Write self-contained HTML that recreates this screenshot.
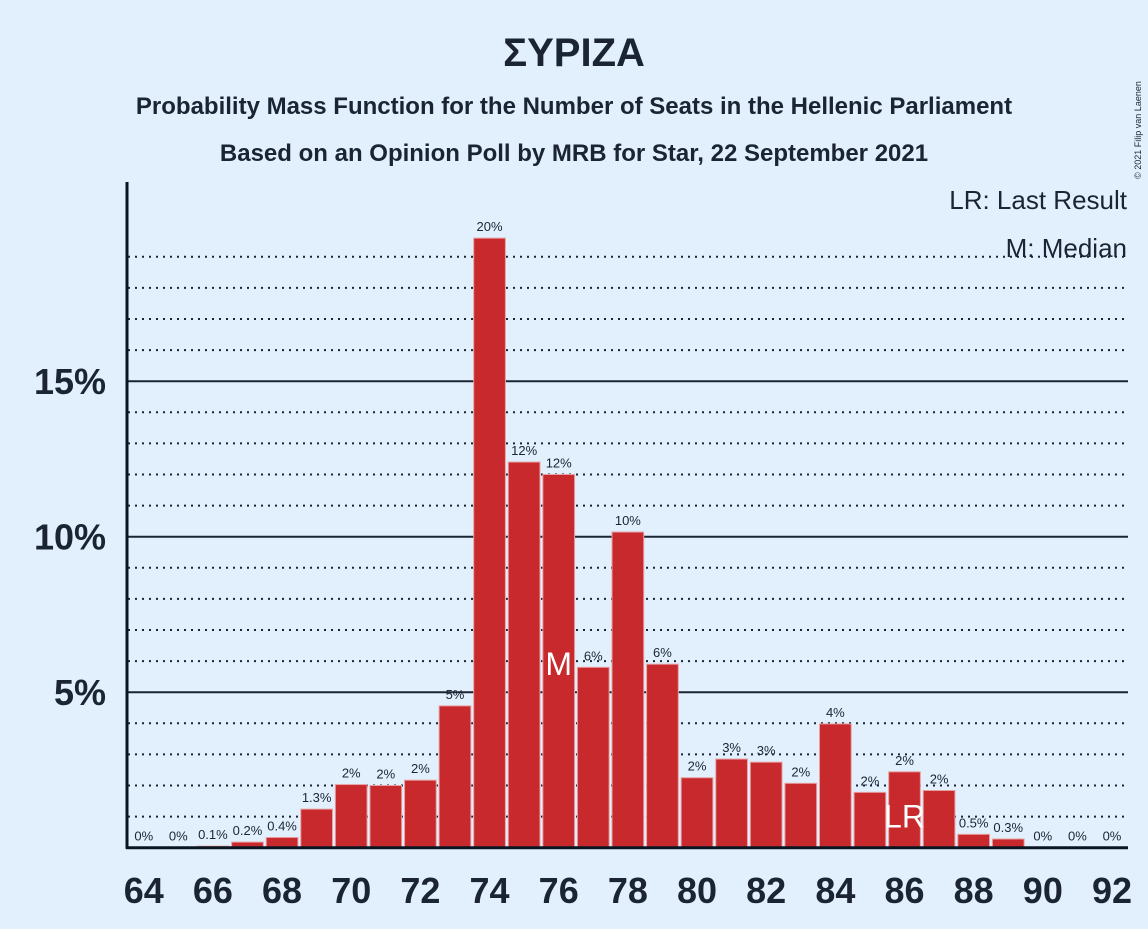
<!DOCTYPE html>
<html><head><meta charset="utf-8"><style>
body{margin:0;background:#e2f0fd;font-family:"Liberation Sans",sans-serif;}
svg text{font-family:"Liberation Sans",sans-serif;fill:#1a2433;}
</style></head><body>
<svg id="chart" width="1148" height="924" xmlns="http://www.w3.org/2000/svg">
<rect width="1148" height="924" fill="#e2f0fd"/>
<text x="574" y="66" text-anchor="middle" font-size="40" font-weight="bold">ΣΥΡΙΖΑ</text>
<text x="574" y="114" text-anchor="middle" font-size="24" font-weight="bold">Probability Mass Function for the Number of Seats in the Hellenic Parliament</text>
<text x="574" y="161" text-anchor="middle" font-size="24" font-weight="bold">Based on an Opinion Poll by MRB for Star, 22 September 2021</text>
<text x="1141" y="130" font-size="9" transform="rotate(-90 1141 130)" text-anchor="middle">© 2021 Filip van Laenen</text>
<g id="grid"></g>
<g id="bars"></g>
<g id="xaxis"></g>
<g id="yaxis"></g>
<text x="1127" y="209" text-anchor="end" font-size="26">LR: Last Result</text>
<text x="1127" y="257" text-anchor="end" font-size="26">M: Median</text>
</svg>
<script>
const seats=[64,65,66,67,68,69,70,71,72,73,74,75,76,77,78,79,80,81,82,83,84,85,86,87,88,89,90,91,92];
const probs=[0,0,0.05,0.18,0.33,1.24,2.03,2.0,2.17,4.56,19.6,12.4,12.0,5.8,10.15,5.9,2.25,2.85,2.75,2.07,3.98,1.78,2.44,1.84,0.43,0.28,0,0,0];
const labels=["0%","0%","0.1%","0.2%","0.4%","1.3%","2%","2%","2%","5%","20%","12%","12%","6%","10%","6%","2%","3%","3%","2%","4%","2%","2%","2%","0.5%","0.3%","0%","0%","0%"];
const yTicks=[5,10,15];
const yTickLabels=["5%","10%","15%"];
const medianSeat=76, lastResultSeat=86;
const NS="http://www.w3.org/2000/svg";
const x0=143.75, step=34.58, bw=31.7, base=847.7, ppu=31.1;
const X=s=>x0+(s-seats[0])*step;
const Y=v=>base-v*ppu;
function mk(tag,attrs,parent,txt){const e=document.createElementNS(NS,tag);for(const k in attrs)e.setAttribute(k,attrs[k]);if(txt!==undefined)e.textContent=txt;document.getElementById(parent).appendChild(e);return e;}
for(let p=1;p<=19;p++){
  if(yTicks.includes(p))continue;
  const l=mk('line',{x1:128,x2:1128,y1:Y(p),y2:Y(p),stroke:'#1a2433','stroke-width':2,'stroke-dasharray':'2,5'},'grid');
  
  
}
yTicks.forEach((t,i)=>{
  const l=mk('line',{x1:128,x2:1128,y1:Y(t),y2:Y(t),stroke:'#1a2433','stroke-width':2},'grid');
  
  
  const tx=mk('text',{x:106,y:Y(t)+13,'text-anchor':'end','font-size':36,'font-weight':'bold'},'yaxis',yTickLabels[i]);
  
  
});
seats.forEach((s,i)=>{
  const v=probs[i];
  if(v>0){
    const r=mk('rect',{x:X(s)-bw/2,y:Y(v),width:bw,height:base-Y(v),fill:'#c8292c',stroke:'#e8a0a2','stroke-width':1},'bars');
    
    
  }
  const t=mk('text',{x:X(s),y:Y(v)-7,'text-anchor':'middle','font-size':13},'bars',labels[i]);
  
  
  if(s%2===0){
    const xt=mk('text',{x:X(s),y:903,'text-anchor':'middle','font-size':36,'font-weight':'bold'},'xaxis',String(s));
    
    
  }
});
const mi=seats.indexOf(medianSeat);
const m=mk('text',{x:X(medianSeat),y:Y(6)+14,'text-anchor':'middle','font-size':32,style:'fill:#fff'},'bars','M');


const lr=mk('text',{x:X(lastResultSeat),y:Y(1)+11,'text-anchor':'middle','font-size':32,style:'fill:#fff'},'bars','LR');


const ya=mk('line',{x1:127,x2:127,y1:182,y2:base+1,stroke:'#0b1522','stroke-width':3},'yaxis');


const xa=mk('line',{x1:126,x2:1128,y1:base,y2:base,stroke:'#0b1522','stroke-width':3},'xaxis');


</script>
</body></html>
